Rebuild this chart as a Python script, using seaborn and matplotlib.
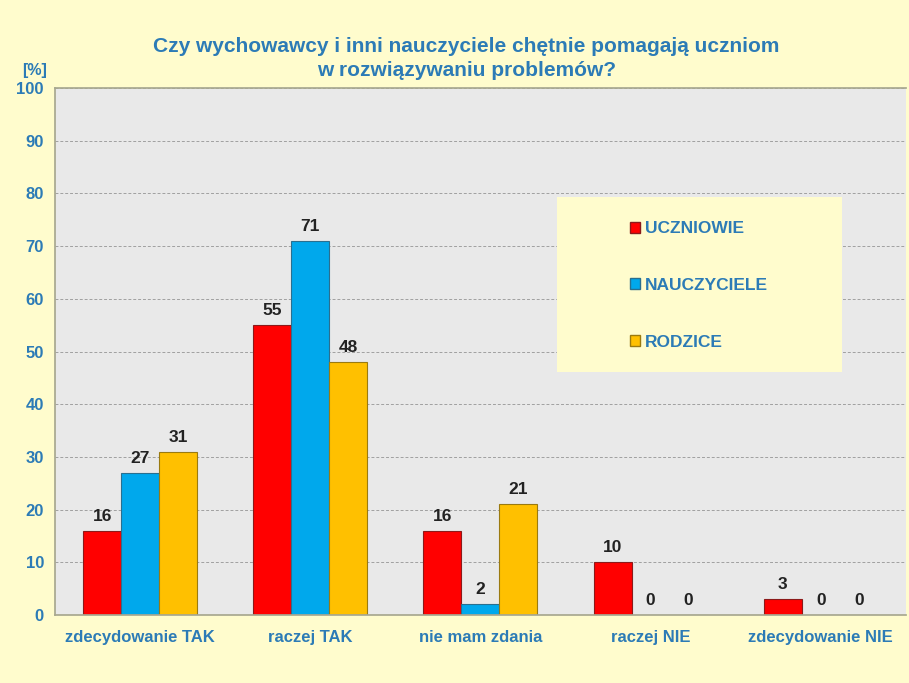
import matplotlib
matplotlib.use("Agg")
import matplotlib.pyplot as plt
import seaborn as sns
import pandas as pd
from matplotlib.patches import Patch, Rectangle

categories = ["zdecydowanie TAK", "raczej TAK", "nie mam zdania", "raczej NIE", "zdecydowanie NIE"]
series_names = ["UCZNIOWIE", "NAUCZYCIELE", "RODZICE"]
uczniowie = [16, 55, 16, 10, 3]
nauczyciele = [27, 71, 2, 0, 0]
rodzice = [31, 48, 21, 0, 0]
y_ticks = [0, 10, 20, 30, 40, 50, 60, 70, 80, 90, 100]

colors = ["#FF0000", "#00A8EC", "#FFC000"]
edge_colors = ["#8B1A1A", "#2A6F8F", "#9A7A10"]
text_blue = "#2C7BB6"
bg = "#FFFCCD"

rows = []
for name, vals in zip(series_names, [uczniowie, nauczyciele, rodzice]):
    for c, v in zip(categories, vals):
        rows.append({"kat": c, "seria": name, "val": v})
df = pd.DataFrame(rows)

sns.set_theme(style="white")
plt.rcParams['font.family'] = ['Liberation Sans', 'DejaVu Sans']

fig = plt.figure(figsize=(9.09, 6.83), dpi=100)
fig.patch.set_facecolor(bg)
ax = fig.add_axes([0.0605, 0.0996, 0.936, 0.7715])
ax.set_facecolor("#E9E9E9")

sns.barplot(data=df, x="kat", y="val", hue="seria", order=categories,
            hue_order=series_names, palette=colors, width=0.67, ax=ax,
            legend=False, saturation=1)

for i, cont in enumerate(ax.containers):
    for bar in cont:
        bar.set_edgecolor(edge_colors[i])
        bar.set_linewidth(0.8)
    ax.bar_label(cont, fmt="%d", padding=5, fontsize=12.5, fontweight="bold", color="#222222")

ax.set_ylim(0, 100)
ax.set_xlim(-0.5, 4.5)
ax.set_yticks(y_ticks)
ax.set_yticklabels([str(t) for t in y_ticks], fontsize=12, fontweight="bold", color=text_blue)
ax.set_xticks(range(len(categories)))
ax.set_xticklabels(categories, fontsize=12, fontweight="bold", color=text_blue)
ax.tick_params(axis="y", length=4, color="#888888", pad=4)
ax.tick_params(axis="x", length=0, pad=11)
ax.set_xlabel("")
ax.set_ylabel("")
ax.yaxis.grid(True, linestyle=(0, (3, 2)), color="#A0A0A0", linewidth=0.7)
ax.set_axisbelow(True)
ax.spines["right"].set_visible(False)
for s in ["top", "left", "bottom"]:
    ax.spines[s].set_color("#A8A890")

fig.text(0.513, 0.914, "Czy wychowawcy i inni nauczyciele chętnie pomagają uczniom\nw rozwiązywaniu problemów?",
         ha="center", va="center", fontsize=15, fontweight="bold", color=text_blue, linespacing=1.3)
fig.text(0.024, 0.897, "[%]", fontsize=11.5, fontweight="bold", color=text_blue, ha="left", va="center")

fig.patches.append(Rectangle((0.613, 0.455), 0.3135, 0.256, transform=fig.transFigure,
                             facecolor=bg, edgecolor="none", zorder=5))

handles = [Patch(facecolor=c, edgecolor=e, label=n) for c, e, n in zip(colors, edge_colors, series_names)]
leg = fig.legend(handles=handles, loc="center left", bbox_to_anchor=(0.693, 0.582),
                 frameon=False, fontsize=12.5, labelspacing=2.4, handlelength=0.6, handleheight=0.6,
                 handletextpad=0.25, borderpad=0, borderaxespad=0)
leg.set_zorder(6)
for t in leg.get_texts():
    t.set_color(text_blue)
    t.set_fontweight("bold")

fig.savefig("out.png", dpi=100, facecolor=fig.get_facecolor())
